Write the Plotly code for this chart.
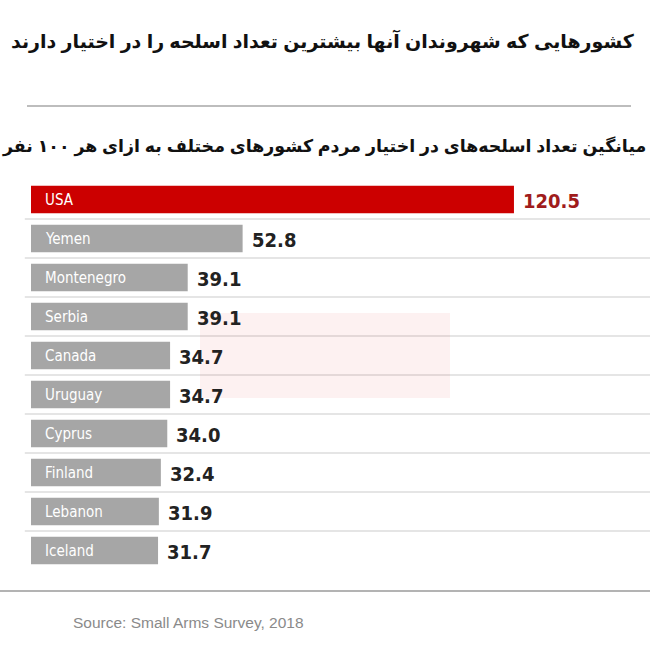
import plotly.graph_objects as go

countries = ["USA", "Yemen", "Montenegro", "Serbia", "Canada", "Uruguay",
             "Cyprus", "Finland", "Lebanon", "Iceland"]
values = [120.5, 52.8, 39.1, 39.1, 34.7, 34.7, 34.0, 32.4, 31.9, 31.7]
value_labels = ["120.5", "52.8", "39.1", "39.1", "34.7", "34.7", "34.0", "32.4", "31.9", "31.7"]

title_text = "کشورهایی که شهروندان آنها بیشترین تعداد اسلحه را در اختیار دارند"
subtitle_text = "میانگین تعداد اسلحه‌های در اختیار مردم کشورهای مختلف به ازای هر ۱۰۰ نفر"
source_text = "Source: Small Arms Survey, 2018"

RED = "#cc0000"
GRAY = "#a6a6a6"
bar_colors = [RED if c == "USA" else GRAY for c in countries]
val_colors = ["#a01c1c" if c == "USA" else "#222222" for c in countries]

COND = "DejaVu Sans Condensed, Liberation Sans Narrow, sans-serif"

fig = go.Figure()
fig.add_trace(go.Bar(
    x=values, y=countries, orientation="h",
    marker=dict(color=bar_colors, line=dict(width=0)),
    hoverinfo="skip",
))

annotations = []
for c, v, lab, col in zip(countries, values, value_labels, val_colors):
    annotations.append(dict(
        x=0, y=c, xref="x", yref="y", text=c, showarrow=False,
        xanchor="left", yanchor="middle", xshift=12,
        font=dict(size=15, color="white", family=COND),
    ))
    annotations.append(dict(
        x=v, y=c, xref="x", yref="y", text="<b>" + lab + "</b>", showarrow=False,
        xanchor="left", yanchor="middle", xshift=7, yshift=-1,
        font=dict(size=20, color=col, family=COND),
    ))

annotations += [
    dict(x=637, y=41, xref="paper", yref="paper", text="<b>" + title_text + "</b>",
         showarrow=False, xanchor="right", yanchor="middle",
         font=dict(size=19, color="#111", family="Liberation Sans, Arial, DejaVu Sans, sans-serif")),
    dict(x=648, y=146, xref="paper", yref="paper", text="<b>" + subtitle_text + "</b>",
         showarrow=False, xanchor="right", yanchor="middle",
         font=dict(size=17.4, color="#111", family="Liberation Sans, Arial, DejaVu Sans, sans-serif")),
    dict(x=71, y=622, xref="paper", yref="paper", text=source_text,
         showarrow=False, xanchor="left", yanchor="middle",
         font=dict(size=15.5, color="#8a8a8a", family="Liberation Sans, Arial, sans-serif")),
]

W, H = 650, 650
ML, MR, MT, MB = 31, 0, 180, 80
pw, ph = W - ML - MR, H - MT - MB
for a in annotations:
    if a["xref"] == "paper":
        a["x"] = (a["x"] - ML) / pw
        a["y"] = 1 - (a["y"] - MT) / ph

shapes = []
for i in range(len(countries) - 1):
    shapes.append(dict(type="line", xref="paper", yref="y", x0=-0.01, x1=1.0,
                       y0=i + 0.5, y1=i + 0.5, line=dict(color="#dddddd", width=1.5),
                       layer="below"))
shapes.append(dict(type="line", xref="paper", yref="paper",
                   x0=(27 - ML) / pw, x1=(631 - ML) / pw,
                   y0=1 - (106 - MT) / ph, y1=1 - (106 - MT) / ph,
                   line=dict(color="#bdbdbd", width=2)))
shapes.append(dict(type="line", xref="paper", yref="paper",
                   x0=(0 - ML) / pw, x1=(650 - ML) / pw,
                   y0=1 - (591 - MT) / ph, y1=1 - (591 - MT) / ph,
                   line=dict(color="#9a9a9a", width=1.5)))
shapes.append(dict(type="rect", xref="paper", yref="paper",
                   x0=(200 - ML) / pw, x1=(450 - ML) / pw,
                   y0=1 - (398 - MT) / ph, y1=1 - (313 - MT) / ph,
                   fillcolor="rgba(220,60,60,0.07)", line=dict(width=0)))

fig.update_layout(
    width=W, height=H,
    margin=dict(l=ML, r=MR, t=MT, b=MB),
    paper_bgcolor="white", plot_bgcolor="white",
    showlegend=False, bargap=0.29,
    xaxis=dict(range=[0, pw / 4.008], visible=False, fixedrange=True),
    yaxis=dict(autorange="reversed", visible=False, fixedrange=True),
    annotations=annotations, shapes=shapes,
)

fig.write_html("out.html")
